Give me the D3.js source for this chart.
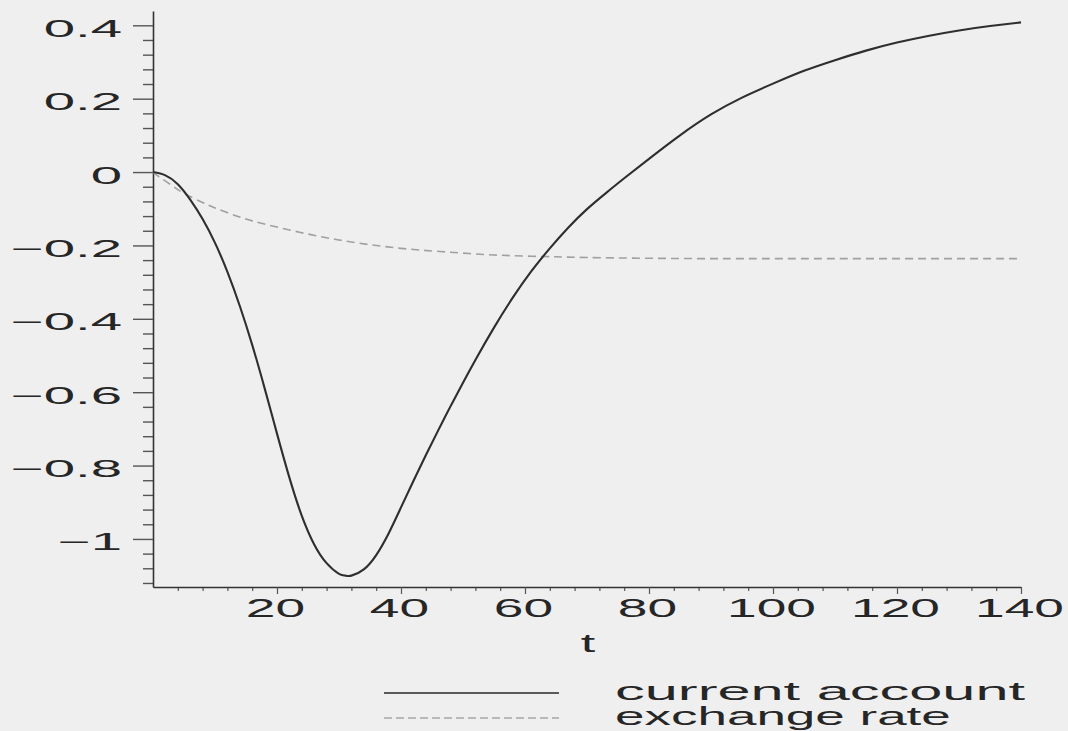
<!DOCTYPE html>
<html>
<head>
<meta charset="utf-8">
<script src="https://cdn.jsdelivr.net/npm/d3@7"></script>
<style>
  html, body { margin: 0; padding: 0; background: #efefef; }
  svg { display: block; }
  text { font-family: "Liberation Sans", Arial, sans-serif; fill: #262626; }
</style>
</head>
<body>
<svg id="chart" width="1068" height="731"></svg>
<script>
// ---- data ----
const caT = [0, 2, 4, 6, 8, 10, 12, 14, 16, 18, 20, 22, 24, 26, 28, 30, 31, 32, 34, 36, 38, 40, 42, 44, 46, 48, 50, 52, 55, 58, 61, 64, 67, 70, 73, 76, 80, 85, 90, 95, 100, 105, 110, 115, 120, 125, 130, 135, 140];
const caV = [0, -0.009, -0.033, -0.075, -0.128, -0.193, -0.272, -0.365, -0.471, -0.589, -0.713, -0.833, -0.937, -1.015, -1.066, -1.095, -1.100, -1.100, -1.083, -1.044, -0.985, -0.914, -0.842, -0.772, -0.704, -0.638, -0.574, -0.512, -0.424, -0.343, -0.271, -0.208, -0.151, -0.101, -0.058, -0.017, 0.036, 0.100, 0.157, 0.203, 0.241, 0.276, 0.305, 0.331, 0.353, 0.371, 0.386, 0.398, 0.408];
const erT = [0, 1, 3, 5, 8, 10, 13, 16, 20, 25, 30, 35, 40, 45, 50, 55, 60, 65, 70, 80, 90, 100, 120, 140];
const erV = [0, -0.013, -0.036, -0.058, -0.083, -0.098, -0.117, -0.133, -0.150, -0.169, -0.185, -0.198, -0.208, -0.215, -0.221, -0.226, -0.229, -0.231, -0.233, -0.235, -0.236, -0.236, -0.236, -0.236];
const xMajor = [20, 40, 60, 80, 100, 120, 140];
const yMajor = [0.4, 0.2, 0, -0.2, -0.4, -0.6, -0.8, -1];
const seriesNames = ["current account", "exchange rate"];
const xTitle = "t";

// ---- layout ----
const svg = d3.select("#chart");
const x = d3.scaleLinear().domain([0, 140]).range([153, 1021]);
const y = d3.scaleLinear().domain([-1.131, 0.439]).range([587, 11]);

const xMinor = d3.range(4, 140, 4).filter(v => v % 20 !== 0);
const yMinor = d3.range(-28, 11).map(k => +(k * 0.04).toFixed(2)).filter(v => Math.abs(Math.round(v * 5) - v * 5) > 1e-6);

const AXIS = "#333";
const TICK = "#555";

// minor ticks
svg.append("g").attr("transform", "translate(0,587)")
  .call(d3.axisBottom(x).tickValues(xMinor).tickSize(4).tickSizeOuter(0).tickFormat(""))
  .call(g => g.select(".domain").remove())
  .call(g => g.selectAll("line").attr("stroke", TICK).attr("stroke-width", 1.2));
svg.append("g").attr("transform", "translate(153,0)")
  .call(d3.axisLeft(y).tickValues(yMinor).tickSize(10).tickSizeOuter(0).tickFormat(""))
  .call(g => g.select(".domain").remove())
  .call(g => g.selectAll("line").attr("stroke", TICK).attr("stroke-width", 1.4));

// major x axis
svg.append("g").attr("transform", "translate(0,587)")
  .call(d3.axisBottom(x).tickValues(xMajor).tickSize(7).tickSizeOuter(0).tickFormat(d3.format("d")))
  .call(g => g.select(".domain").attr("stroke", AXIS).attr("stroke-width", 1.6))
  .call(g => g.selectAll("line").attr("stroke", TICK).attr("stroke-width", 1.2))
  .call(g => g.selectAll("text")
     .attr("y", null).attr("dy", null)
     .attr("font-size", 26).attr("fill", "#262626")
     .attr("transform", "translate(-2,30) scale(2.05,1)"));

// major y axis
svg.append("g").attr("transform", "translate(153,0)")
  .call(d3.axisLeft(y).tickValues(yMajor).tickSize(20).tickSizeOuter(0).tickFormat(d3.format("")))
  .call(g => g.select(".domain").attr("stroke", AXIS).attr("stroke-width", 1.6))
  .call(g => g.selectAll("line").attr("stroke", TICK).attr("stroke-width", 1.4))
  .call(g => g.selectAll("text")
     .attr("x", null).attr("dy", "0.48em")
     .attr("font-size", 23).attr("fill", "#262626")
     .attr("transform", "translate(-31,0) scale(2.45,1)"));

// series
const line = d3.line().x(d => x(d[0])).y(d => y(d[1])).curve(d3.curveNatural);
const caData = caT.map((t, i) => [t, caV[i]]);
const erData = erT.map((t, i) => [t, erV[i]]);

svg.append("path").datum(erData)
  .attr("d", line).attr("fill", "none")
  .attr("stroke", "#a0a0a0").attr("stroke-width", 1.6)
  .attr("stroke-dasharray", "8,5");
svg.append("path").datum(caData)
  .attr("d", line).attr("fill", "none")
  .attr("stroke", "#2e2e2e").attr("stroke-width", 2.1);

// x title
svg.append("g").attr("transform", "translate(588,652) scale(2.0,1)")
  .append("text").attr("text-anchor", "middle").attr("font-size", 26).text(xTitle);

// legend
const legY = [693, 718];
const legStyles = [
  { stroke: "#5a5a5a", width: 2, dash: null, sx: 2.38 },
  { stroke: "#a8a8a8", width: 1.4, dash: "8,4", sx: 2.12 }
];
seriesNames.forEach((name, i) => {
  svg.append("line")
    .attr("x1", 384).attr("x2", 559)
    .attr("y1", legY[i]).attr("y2", legY[i])
    .attr("stroke", legStyles[i].stroke)
    .attr("stroke-width", legStyles[i].width)
    .attr("stroke-dasharray", legStyles[i].dash);
  svg.append("g").attr("transform", `translate(615,${legY[i] + 7}) scale(${legStyles[i].sx},1)`)
    .append("text").attr("font-size", 25).text(name);
});
</script>
</body>
</html>
